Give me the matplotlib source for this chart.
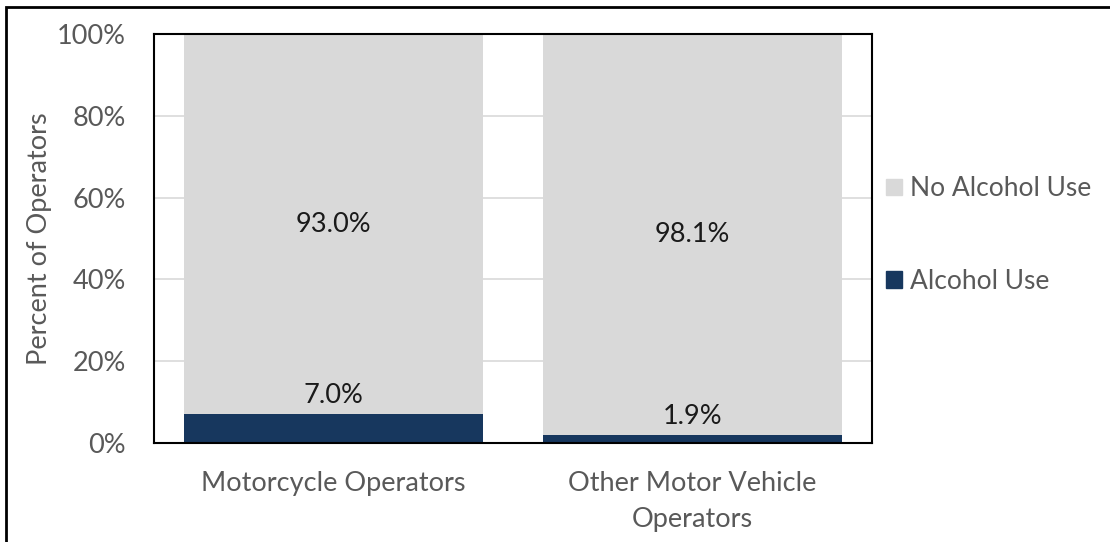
import matplotlib
matplotlib.use("Agg")
import matplotlib.pyplot as plt
from matplotlib.patches import Patch, Rectangle
import numpy as np

categories = ["Motorcycle Operators", "Other Motor Vehicle\nOperators"]
alcohol_use = [7.0, 1.9]
no_alcohol_use = [93.0, 98.1]
series_names = ["Alcohol Use", "No Alcohol Use"]
y_ticks = [0, 20, 40, 60, 80, 100]
y_tick_labels = ["0%", "20%", "40%", "60%", "80%", "100%"]
y_label = "Percent of Operators"

NAVY = "#17375E"
GREY = "#D9D9D9"
TEXT = "#595959"
FS = 19.5

plt.rcParams["font.family"] = ["Lato", "DejaVu Sans"]

fig = plt.figure(figsize=(11.1, 5.42), dpi=100)
ax = fig.add_axes([154/1110, 1 - 443/542, (872-154)/1110, (443-34)/542])

x = np.arange(len(categories))
w = 0.833
b1 = ax.bar(x, alcohol_use, w, color=NAVY, zorder=2)
b2 = ax.bar(x, no_alcohol_use, w, bottom=alcohol_use, color=GREY, zorder=2)

for xi, a, n in zip(x, alcohol_use, no_alcohol_use):
    ax.annotate(f"{a:.1f}%", (xi, a), xytext=(0, 13.5), textcoords="offset points",
                ha="center", va="center", fontsize=FS, color="#1a1a1a", zorder=3)
    ax.text(xi, a + n / 2, f"{n:.1f}%", ha="center", va="center",
            fontsize=FS, color="#1a1a1a", zorder=3)

ax.set_xlim(-0.5, 1.5)
ax.set_ylim(0, 100)
ax.set_yticks(y_ticks)
ax.set_yticklabels(y_tick_labels)
ax.set_xticks(x)
ax.set_xticklabels(categories, linespacing=1.55)
ax.tick_params(axis="y", length=0, pad=20, labelsize=FS, labelcolor=TEXT)
ax.tick_params(axis="x", length=0, pad=20, labelsize=FS, labelcolor=TEXT)
for lbl in ax.get_yticklabels():
    lbl.set_va("center_baseline")
ax.yaxis.grid(True, color="#D9D9D9", lw=1.2, zorder=1)
ax.set_axisbelow(True)
for s in ax.spines.values():
    s.set_color("black")
    s.set_linewidth(1.5)
ax.set_ylabel(y_label, fontsize=FS, color=TEXT, labelpad=4)

handles = [Patch(color=GREY, label=series_names[1]),
           Patch(color=NAVY, label=series_names[0])]
fig.legend(handles=handles, loc="center left", bbox_to_anchor=(886/1110, 1 - 235/542),
           frameon=False, fontsize=19, handlelength=0.6, handleheight=0.6,
           handletextpad=0.32, labelspacing=2.55, borderpad=0, borderaxespad=0,
           labelcolor=TEXT)

fig.patches.append(Rectangle((6/1110, -0.05), 1.2, 1 - 7/542 + 0.05, transform=fig.transFigure,
                             fill=False, edgecolor="black", lw=2, zorder=10))

fig.savefig("out.png", dpi=100)
